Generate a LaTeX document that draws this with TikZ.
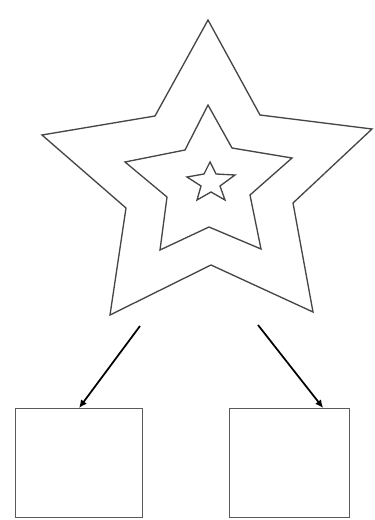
\documentclass[tikz,border=0pt]{standalone}
\usetikzlibrary{arrows.meta,calc}

\tikzset{every picture/.style={line width=0.75pt}}
\tikzset{
  starline/.style={color={rgb, 255:red, 70; green, 70; blue, 70}, line width=1pt, line join=miter},
  boxnode/.style={draw={rgb, 255:red, 90; green, 90; blue, 90}, line width=1.1pt, inner sep=0pt, anchor=north west, minimum height=81.5pt},
  pointer/.style={line width=1.3pt, -{Latex[length=6pt,width=5.5pt]}}
}

\begin{document}
\begin{tikzpicture}[x=0.75pt,y=0.75pt,yscale=-1,xscale=1]
\useasboundingbox (0,0) rectangle (374,520);

%Shape: Star [id:outer]
\draw [starline] (208,20) -- (260,115) -- (372,129) -- (293,203) -- (313,312) -- (211,265) -- (110,315) -- (126,208) -- (42,135) -- (155,116) -- cycle ;
%Shape: Star [id:middle]
\draw [starline] (208,105) -- (232,148) -- (292,158) -- (250,195) -- (261,249) -- (209,227) -- (160,250) -- (167,197) -- (125,162) -- (185,150) -- cycle ;
%Shape: Star [id:inner]
\draw [starline] (210,162) -- (216,174) -- (235,175) -- (220,186) -- (225,200) -- (211,192) -- (197,200) -- (201,186) -- (187,177) -- (204,174) -- cycle ;

% Boxes
\node [boxnode, minimum width=95pt] (leftbox) at (15,408) {};
\node [boxnode, minimum width=90pt] (rightbox) at (229,408) {};

% Arrows
\coordinate (leftstart) at (140,326);
\coordinate (rightstart) at (258,325);
\draw [pointer] (leftstart) -- (leftbox.north) ;
\draw [pointer] (rightstart) -- ($(rightbox.north)!0.55!(rightbox.north east)$) ;

\end{tikzpicture}
\end{document}
